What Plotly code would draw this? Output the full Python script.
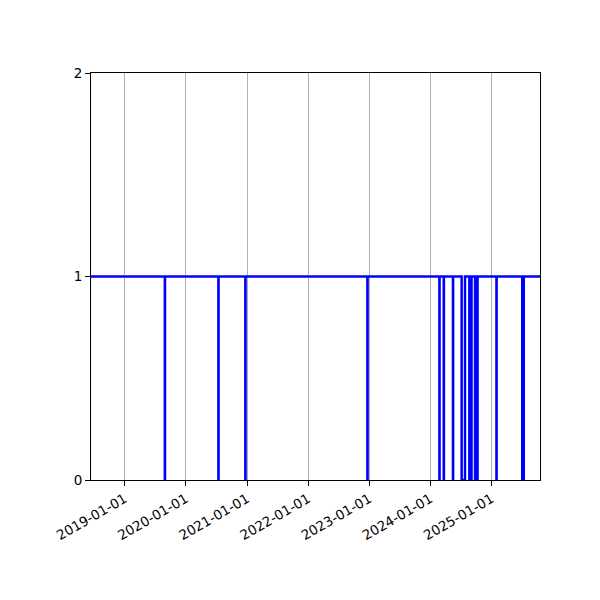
import plotly.graph_objects as go

# step series: value changes (0 = dip)
dates = [
    "2018-06-14", "2019-08-29", "2019-08-30",
    "2020-07-14", "2020-07-15",
    "2020-12-22", "2020-12-23",
    "2022-12-21", "2022-12-22",
    "2024-02-24", "2024-02-25",
    "2024-03-21", "2024-03-22",
    "2024-05-15", "2024-05-16",
    "2024-07-06", "2024-07-26",
    "2024-08-21", "2024-09-03",
    "2024-09-24", "2024-10-09",
    "2025-01-30", "2025-01-31",
    "2025-07-03", "2025-07-12",
    "2025-10-17",
]
values = [
    1, 0, 1,
    0, 1,
    0, 1,
    0, 1,
    0, 1,
    0, 1,
    0, 1,
    0, 1,
    0, 1,
    0, 1,
    0, 1,
    0, 1,
    1,
]
year_ticks = ["2019-01-01", "2020-01-01", "2021-01-01", "2022-01-01",
              "2023-01-01", "2024-01-01", "2025-01-01"]
y_ticks = [0, 1, 2]

fig = go.Figure()
fig.add_trace(go.Scatter(x=dates, y=values, mode="lines",
                         line=dict(color="#0000ff", width=2.5, shape="hv"),
                         showlegend=False))

# page body adds 8px, so margins are shifted by that
fig.update_layout(
    width=600, height=600,
    margin=dict(l=83, r=68, t=65, b=128),
    paper_bgcolor="white", plot_bgcolor="white",
    font=dict(family="DejaVu Sans", size=13.5, color="black"),
)
fig.update_xaxes(
    type="date", range=["2018-06-14", "2025-10-17"],
    tickvals=year_ticks, ticktext=year_ticks, tickangle=-30,
    showgrid=True, gridcolor="#b0b0b0", gridwidth=1,
    showline=True, linecolor="black", linewidth=1, mirror=True,
    ticks="outside", ticklen=5, tickcolor="black", zeroline=False,
)
fig.update_yaxes(
    range=[0, 2], tickvals=y_ticks, ticktext=[str(v) for v in y_ticks],
    showgrid=False,
    showline=True, linecolor="black", linewidth=1, mirror=True,
    ticks="outside", ticklen=5, tickcolor="black", zeroline=False,
)

fig.write_html("out.html")
